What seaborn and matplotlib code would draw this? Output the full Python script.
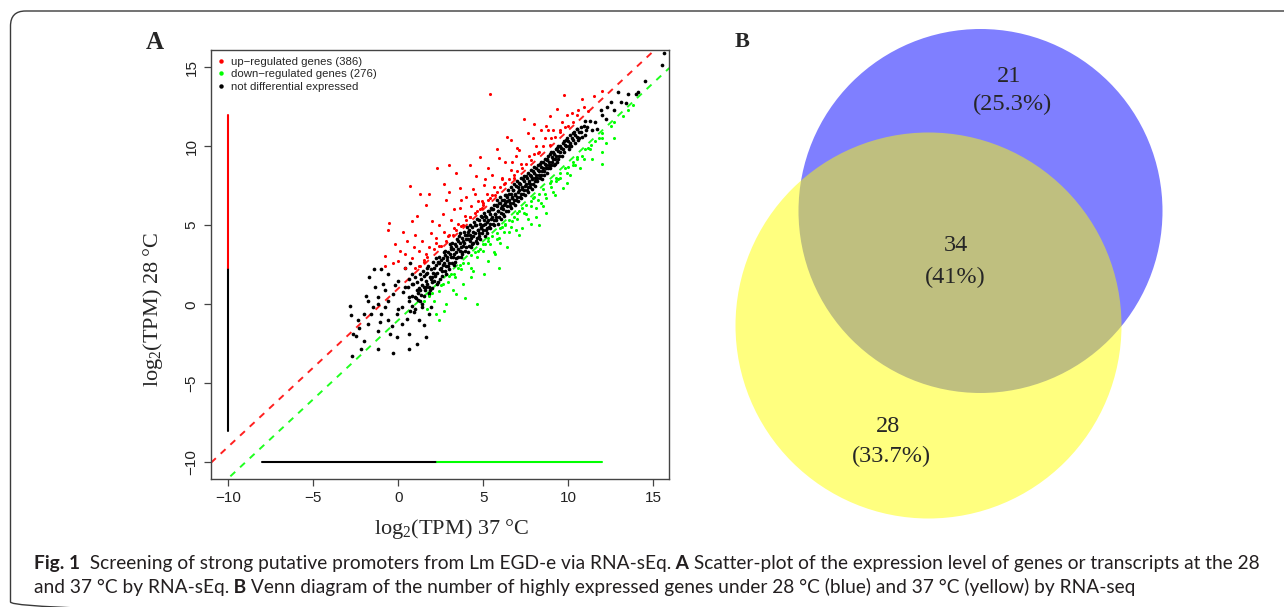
import numpy as np
import pandas as pd
import seaborn as sns
import matplotlib.pyplot as plt
from matplotlib.patches import Circle, FancyBboxPatch
from matplotlib.lines import Line2D

W, H = 1284, 607

#############################################
# Panel A data: log2(TPM) at 37 C (x) vs 28 C (y)
#############################################
up_pts = [
    (5.41, 13.28), (9.73, 13.22), (10.8, 13.0), (11.96, 13.5), (9.36, 12.34), (10.54, 12.28),
    (11.15, 12.2), (8.0, 11.4), (8.67, 11.3), (8.92, 11.9), (7.64, 10.8), (6.6, 10.4),
    (7.1, 9.76), (5.9, 9.24), (6.7, 9.0), (4.2, 8.8), (3.0, 8.8), (2.3, 8.6), (5.3, 8.6),
    (7.3, 8.6), (7.5, 8.9), (4.55, 8.1), (6.1, 8.0), (0.7, 7.45), (1.3, 7.0), (3.0, 7.1),
    (3.6, 7.35), (5.06, 7.56), (6.2, 7.6), (5.7, 6.9), (4.9, 6.5), (1.6, 6.3), (2.6, 5.7),
    (2.0, 5.25), (3.6, 6.1), (4.2, 5.5), (4.6, 5.9), (0.8, 5.25), (-0.55, 5.15), (-0.6, 4.7),
    (0.3, 4.6), (1.0, 4.4), (2.2, 4.2), (3.0, 4.4), (3.4, 4.7), (3.7, 4.95), (1.8, 3.6),
    (2.4, 3.7), (2.8, 4.0), (0.1, 3.4), (-0.8, 3.05), (0.0, 2.74), (0.8, 2.95), (1.6, 3.16),
    (1.7, 3.0), (0.4, 2.3), (1.2, 2.4), (1.3, 2.45), (-0.8, 2.4), (1.5, 2.7), (4.9, 6.1),
    (5.0, 6.3), (5.4, 6.7), (6.8, 8.0), (8.2, 9.55), (8.9, 10.1), (9.5, 10.9), (9.8, 11.2),
    (10.3, 11.5), (2.5, 3.7), (3.2, 4.4), (3.8, 5.0), (4.5, 5.8), (5.0, 6.4), (5.5, 6.9),
    (6.0, 7.4), (6.5, 7.9), (7.0, 8.4), (8.0, 9.5), (8.5, 10.0), (9.0, 10.5), (9.5, 11.0),
    (1.5, 2.8), (1.0, 2.3), (3.5, 5.1), (4.2, 5.5), (5.8, 7.1), (6.3, 7.7), (4.0, 5.3),
    (4.8, 6.0), (5.3, 6.6), (6.8, 8.2), (7.8, 9.1), (8.3, 9.6), (9.2, 10.6), (10.0, 11.3),
    (10.5, 12.0), (2.9, 4.3), (3.3, 4.8), (2.1, 3.5), (1.2, 3.4), (0.4, 3.2), (-0.3, 2.6),
    (2.2, 3.9), (2.7, 4.6), (3.1, 5.3), (3.9, 5.6), (4.3, 6.2), (4.7, 6.5), (5.2, 7.0),
    (5.6, 7.4), (6.1, 7.9), (6.6, 8.5), (7.2, 8.9), (7.7, 9.4), (8.1, 10.0), (8.6, 10.5),
    (9.1, 11.0), (9.6, 11.5), (10.2, 12.1), (3.3, 6.0), (4.0, 6.8), (4.4, 7.3), (5.5, 8.2),
    (6.3, 9.0), (7.0, 9.9), (7.9, 10.5), (8.4, 11.0), (2.4, 5.0), (1.9, 4.5), (1.4, 4.0),
    (0.9, 3.6), (3.7, 6.6), (5.1, 7.9), (6.9, 9.4), (8.8, 11.0), (9.9, 12.0), (10.9, 12.5),
    (11.5, 13.2), (-0.2, 3.8), (0.5, 4.0), (1.1, 5.6), (2.8, 6.6), (4.8, 9.3), (5.8, 9.8),
    (6.4, 10.6), (7.4, 11.7), (3.4, 8.3), (1.8, 7.0), (2.7, 7.6), (4.5, 7.0),
]

down_pts = [
    (11.96, 10.5), (11.35, 10.1), (12.7, 10.5), (11.96, 9.66), (11.96, 8.9), (11.15, 9.9),
    (10.95, 9.2), (10.3, 8.8), (10.1, 8.2), (9.3, 7.8), (9.7, 7.35), (8.7, 6.7), (8.5, 6.2),
    (8.1, 5.5), (7.5, 5.7), (7.3, 4.85), (7.1, 5.9), (6.3, 5.1), (6.1, 4.9), (6.5, 4.6),
    (5.9, 4.2), (5.3, 4.2), (5.7, 3.2), (5.3, 2.74), (4.7, 3.4), (4.25, 2.3), (3.65, 2.5),
    (4.3, 3.1), (3.35, 1.7), (3.0, 1.8), (2.6, 1.27), (2.4, 0.85), (3.8, 1.27), (2.8, 0.0),
    (4.65, 0.0), (2.4, -1.0), (2.2, -0.6), (3.4, 0.65), (5.1, 3.8), (6.7, 5.25), (7.9, 6.7),
    (9.1, 7.1), (8.9, 7.7), (10.5, 9.2), (11.55, 10.3), (12.7, 11.5), (13.2, 11.9), (13.8, 12.6),
    (4.25, 1.7), (5.9, 2.3), (5.05, 1.9), (7.1, 4.4), (8.1, 6.1), (9.5, 8.0), (8.3, 5.0),
    (8.7, 5.8), (1.5, 0.2), (2.0, 0.7), (3.1, 1.9), (3.5, 2.3), (4.5, 3.3), (5.0, 3.8),
    (5.5, 4.3), (6.0, 4.8), (6.5, 5.3), (7.0, 5.8), (7.5, 6.3), (8.0, 6.8), (8.5, 7.3),
    (9.0, 7.8), (9.5, 8.3), (10.0, 8.7), (10.5, 9.3), (11.0, 9.8), (12.0, 10.8), (12.5, 11.3),
    (3.8, 2.6), (4.8, 3.5), (5.3, 4.0), (5.8, 4.5), (6.3, 5.0), (6.8, 5.5), (7.3, 6.1),
    (7.8, 6.5), (8.3, 7.0), (9.3, 8.0), (9.8, 8.6), (10.3, 9.0), (13.5, 12.3), (1.8, 0.5),
    (2.5, 1.2), (2.9, 1.4), (3.3, 1.9), (3.7, 2.2), (4.1, 2.6), (4.6, 3.0), (5.0, 3.4),
    (5.4, 3.8), (5.8, 4.1), (6.2, 4.6), (6.6, 4.9), (7.0, 5.4), (7.4, 5.8), (7.8, 6.2),
    (8.2, 6.6), (8.6, 7.0), (9.0, 7.4), (9.4, 7.9), (9.9, 8.3), (10.4, 8.8), (10.8, 9.4),
    (11.3, 9.8), (11.8, 10.5), (4.4, 2.1), (5.6, 3.3), (6.0, 3.9), (6.9, 4.7), (7.6, 5.4),
    (8.4, 6.4), (9.2, 6.9), (9.9, 7.7), (10.7, 8.6), (11.4, 9.2), (3.2, 0.9), (2.7, -0.4),
    (3.9, 0.4), (6.4, 3.6), (7.8, 5.1), (12.2, 10.2), (2.1, 0.2), (1.7, -0.3),
]

flat_pts = [
    # low expressed cloud
    (-2.84, -0.09), (-2.8, -0.7), (-2.64, -1.87), (-2.7, -3.3), (-2.33, -1.5), (-1.73, 1.7),
    (-1.42, 2.2), (-1.0, 2.2), (-0.9, 1.27), (-1.2, 0.44), (-1.8, 0.23), (-1.6, -0.6),
    (-1.8, -1.24), (-1.2, -1.66), (-1.2, -2.8), (-0.3, -3.1), (0.6, -2.8), (1.1, -2.5),
    (1.6, -2.1), (0.6, -1.9), (-0.1, -2.1), (-0.6, -1.0), (-0.1, -0.6), (0.2, -0.2),
    (-0.8, -0.2), (-0.3, 0.65), (0.4, 1.07), (1.0, 0.44), (1.4, -0.2), (1.8, -0.6),
    (1.2, -1.0), (0.8, 1.9), (0.4, 2.3), (0.8, 1.27), (1.6, 1.07), (2.0, 1.7), (1.8, 0.65),
    (-2.0, -2.3), (-2.2, -2.8), (-0.5, -1.9), (0.2, -1.24), (-1.0, -0.6), (-1.4, 1.07),
    (-0.6, 1.9), (0.0, 1.5), (0.6, 0.44), (-0.6, 0.23), (-1.2, 0.0), (-2.0, -0.6), (-2.4, -1.0),
    (-1.5, -0.2), (-0.4, -1.4), (0.9, -0.5), (0.3, 0.8), (-0.8, 0.9), (1.3, 0.2), (0.5, -0.9),
    (-1.9, 0.5), (-2.5, -2.0), (0.0, -0.3), (1.5, -1.3), (0.7, 2.6), (-0.2, 1.2), (1.9, -0.2),
    (-1.1, -1.1),
    # main band
    (0.62, 0.2), (0.55, 1.1), (0.68, -0.4), (0.6, 1.6), (0.83, 0.5), (0.78, -0.1), (0.86, 1.3),
    (1.03, 0.4), (0.96, 1.7), (1.08, 0.9), (1.0, -0.3), (1.22, 1.0), (1.17, 0.3), (1.25, 1.9),
    (1.41, 1.2), (1.36, 0.6), (1.44, 2.1), (1.38, 0.0), (1.62, 1.5), (1.57, 0.9), (1.66, 2.3),
    (1.6, 1.9), (1.83, 1.1), (1.77, 2.4), (1.85, 1.7), (1.8, 0.7), (2.03, 2.0), (1.97, 1.4),
    (2.06, 2.7), (2.0, 1.0), (2.23, 2.5), (2.17, 1.8), (2.26, 1.3), (2.2, 2.9), (2.43, 2.2),
    (2.37, 3.0), (2.45, 1.6), (2.4, 2.6), (2.62, 2.9), (2.57, 2.1), (2.66, 3.3), (2.6, 2.5),
    (2.83, 2.4), (2.77, 3.4), (2.86, 3.0), (2.8, 1.9), (3.02, 3.2), (2.97, 2.6), (3.05, 3.8),
    (3.0, 2.2), (3.08, 3.5), (3.22, 3.0), (3.17, 3.9), (3.25, 2.5), (3.2, 3.5), (3.42, 3.7),
    (3.37, 2.9), (3.45, 4.1), (3.4, 3.3), (3.62, 3.4), (3.57, 4.3), (3.66, 3.0), (3.6, 3.9),
    (3.64, 4.5), (3.83, 4.0), (3.77, 3.3), (3.86, 4.6), (3.8, 3.7), (4.02, 4.4), (3.97, 3.6),
    (4.06, 4.9), (4.0, 4.1), (4.08, 3.3), (4.22, 4.0), (4.17, 4.7), (4.26, 3.6), (4.2, 5.0),
    (4.24, 4.4), (4.42, 4.6), (4.37, 3.9), (4.45, 5.2), (4.4, 4.3), (4.62, 4.2), (4.57, 5.0),
    (4.66, 4.7), (4.6, 5.4), (4.64, 3.9), (4.83, 5.1), (4.77, 4.5), (4.86, 5.6), (4.8, 4.1),
    (4.84, 4.8), (5.02, 5.3), (4.97, 4.7), (5.06, 5.8), (5.0, 5.0), (5.08, 4.3), (5.22, 4.8),
    (5.17, 5.5), (5.26, 5.9), (5.2, 5.2), (5.24, 4.5), (5.42, 5.7), (5.37, 5.1), (5.45, 6.1),
    (5.4, 4.8), (5.44, 5.4), (5.62, 5.3), (5.57, 6.0), (5.66, 5.7), (5.6, 6.3), (5.64, 5.0),
    (5.83, 6.2), (5.77, 5.5), (5.86, 5.9), (5.8, 6.6), (5.84, 5.1), (6.02, 5.8), (5.97, 6.4),
    (6.06, 6.1), (6.0, 6.8), (6.04, 5.4), (6.22, 6.6), (6.17, 6.0), (6.26, 6.9), (6.2, 5.6),
    (6.24, 6.3), (6.42, 6.2), (6.37, 6.8), (6.45, 7.2), (6.4, 6.5), (6.44, 5.9), (6.62, 7.0),
    (6.57, 6.4), (6.66, 6.7), (6.6, 7.4), (6.64, 6.1), (6.83, 6.6), (6.77, 7.2), (6.86, 6.9),
    (6.8, 7.6), (6.84, 6.3), (7.02, 7.4), (6.97, 6.8), (7.06, 7.1), (7.0, 7.8), (7.04, 6.5),
    (7.22, 7.0), (7.17, 7.6), (7.26, 7.3), (7.2, 8.0), (7.24, 6.7), (7.42, 7.8), (7.37, 7.2),
    (7.45, 7.5), (7.4, 8.1), (7.44, 6.9), (7.62, 7.4), (7.57, 8.0), (7.66, 7.7), (7.6, 8.3),
    (7.64, 7.1), (7.83, 8.1), (7.77, 7.6), (7.86, 7.9), (7.8, 8.5), (7.84, 7.3), (8.02, 7.8),
    (7.97, 8.3), (8.06, 8.0), (8.0, 8.7), (8.04, 7.5), (8.22, 8.5), (8.17, 8.0), (8.26, 8.2),
    (8.2, 8.8), (8.42, 8.2), (8.37, 8.7), (8.45, 8.4), (8.4, 9.0), (8.44, 7.9), (8.62, 8.9),
    (8.57, 8.4), (8.66, 8.6), (8.6, 9.2), (8.83, 8.6), (8.77, 9.1), (8.86, 8.8), (8.8, 9.4),
    (9.02, 9.3), (8.97, 8.8), (9.06, 9.0), (9.0, 9.6), (9.22, 8.9), (9.17, 9.5), (9.26, 9.8),
    (9.2, 9.2), (9.42, 9.7), (9.37, 9.2), (9.45, 9.4), (9.4, 10.0), (9.62, 9.4), (9.57, 9.9),
    (9.66, 10.2), (9.83, 10.1), (9.77, 9.6), (9.86, 10.4), (10.02, 9.8), (9.97, 10.3),
    (10.06, 10.0), (10.22, 10.5), (10.17, 10.0), (10.26, 10.8), (10.42, 10.2), (10.37, 10.7),
    (10.62, 10.9), (10.57, 10.4), (10.83, 10.6), (10.77, 11.2), (11.02, 11.0), (10.97, 10.7),
    # main band, in between
    (1.12, 1.4), (1.15, 0.7), (1.31, 1.6), (1.29, 0.9), (1.52, 1.8), (1.49, 1.1), (1.53, 0.5),
    (1.71, 2.0), (1.68, 1.3), (1.93, 2.2), (1.9, 1.6), (1.88, 0.9), (2.12, 2.3), (2.1, 1.5),
    (2.14, 1.9), (2.32, 2.7), (2.29, 2.0), (2.33, 1.4), (2.52, 2.8), (2.49, 2.3), (2.54, 1.8),
    (2.72, 3.1), (2.69, 2.6), (2.73, 2.1), (2.91, 3.3), (2.89, 2.8), (2.94, 2.4), (3.12, 3.6),
    (3.1, 3.0), (3.14, 2.6), (3.32, 3.8), (3.29, 3.2), (3.34, 2.7), (3.51, 4.0), (3.49, 3.5),
    (3.53, 3.0), (3.72, 4.2), (3.69, 3.6), (3.74, 3.2), (3.92, 4.4), (3.89, 3.9), (3.94, 3.4),
    (4.12, 4.6), (4.09, 4.1), (4.14, 3.7), (4.32, 4.9), (4.29, 4.2), (4.34, 3.8), (4.52, 5.0),
    (4.49, 4.5), (4.54, 4.0), (4.72, 5.3), (4.69, 4.7), (4.74, 4.3), (4.92, 5.5), (4.89, 4.9),
    (4.94, 4.5), (5.12, 5.6), (5.09, 5.1), (5.14, 4.7), (5.32, 5.9), (5.29, 5.3), (5.34, 4.9),
    (5.52, 6.0), (5.49, 5.5), (5.54, 5.1), (5.72, 6.3), (5.69, 5.7), (5.74, 5.3), (5.92, 6.4),
    (5.89, 5.9), (5.94, 5.5), (6.12, 6.6), (6.09, 6.2), (6.14, 5.7), (6.32, 6.9), (6.29, 6.4),
    (6.34, 5.9), (6.52, 7.0), (6.49, 6.6), (6.54, 6.2), (6.72, 7.2), (6.69, 6.8), (6.74, 6.4),
    (6.92, 7.5), (6.89, 7.0), (6.94, 6.6), (7.12, 7.7), (7.09, 7.2), (7.14, 6.8), (7.32, 7.9),
    (7.29, 7.4), (7.34, 7.0), (7.52, 8.1), (7.49, 7.6), (7.54, 7.2), (7.72, 8.2), (7.69, 7.8),
    (7.74, 7.4), (7.92, 8.4), (7.89, 8.0), (7.94, 7.6), (8.12, 8.6), (8.09, 8.2), (8.14, 7.8),
    (8.32, 8.9), (8.29, 8.4), (8.34, 8.0), (8.52, 9.0), (8.49, 8.6), (8.54, 8.2), (8.72, 9.2),
    (8.69, 8.8), (8.74, 8.3), (8.92, 9.5), (8.89, 9.0), (8.94, 8.6), (9.12, 9.6), (9.09, 9.2),
    (9.14, 8.8), (9.32, 9.9), (9.29, 9.4), (9.34, 9.0), (9.52, 10.0), (9.49, 9.6), (9.72, 10.3),
    (9.69, 9.8), (9.92, 10.5), (9.89, 10.0), (10.12, 10.7), (10.09, 10.2), (10.32, 10.9),
    (10.29, 10.4), (10.52, 11.1), (10.49, 10.6), (10.72, 10.9), (10.92, 11.3), (11.12, 11.2),
    (11.4, 11.0),
    # high end
    (11.3, 11.6), (11.55, 11.5), (11.7, 11.1), (11.9, 12.3), (12.0, 12.0), (12.2, 11.7),
    (12.5, 12.8), (12.7, 12.3), (12.9, 13.4), (13.1, 12.8), (13.4, 12.7), (13.5, 13.3),
    (14.0, 13.3), (14.1, 13.4), (14.5, 14.1), (15.5, 15.15), (15.6, 15.9), (10.5, 11.1),
    (10.6, 10.5), (10.1, 10.1), (11.0, 11.6), (12.3, 12.5),
]

n_up, n_down = 386, 276
fold_offsets = [1, -1]            # y = x + 1 (red) and y = x - 1 (green)
vline_black = [-8.0, 2.3]         # along x = -10
vline_red = [2.3, 12.0]
hline_black = [-8.0, 2.25]        # along y = -10
hline_green = [2.25, 12.0]

#############################################
# Panel B data: Venn counts
#############################################
venn_labels = ["28 only", "both", "37 only"]
venn_counts = [21, 34, 28]

#############################################
# style
#############################################
sns.set_theme(style="ticks")
plt.rcParams["font.family"] = ["Liberation Sans", "DejaVu Sans"]
plt.rcParams["mathtext.fontset"] = "stix"
serif = ["Liberation Serif", "DejaVu Serif", "DejaVu Sans"]

fig = plt.figure(figsize=(W / 100, H / 100), dpi=100)
fig.patch.set_facecolor("white")


def px_box(l, t, r, b):
    return [l / W, 1 - b / H, (r - l) / W, (b - t) / H]


def to_df(pts, grp):
    d = pd.DataFrame(pts, columns=["x37", "y28"])
    d["grp"] = grp
    return d


#############################################
# Panel A
#############################################
ax = fig.add_axes(px_box(211, 50, 669.3, 479))
ax.set_facecolor("white")
xlim = (-11.02, 15.94)
ylim = (-11.05, 16.08)

pts = pd.concat([to_df(flat_pts, "flat"), to_df(up_pts, "up"), to_df(down_pts, "down")])
cols = {"flat": "black", "up": "#ff0000", "down": "#00ff00"}
sizes = {"flat": 7, "up": 5, "down": 5}
for g in ["flat", "up", "down"]:
    sns.scatterplot(data=pts[pts.grp == g], x="x37", y="y28", color=cols[g],
                    s=sizes[g], linewidth=0, legend=False, ax=ax, zorder=3)

xs = np.array(xlim)
for off, c in zip(fold_offsets, ["#ff2020", "#20ff20"]):
    ax.plot(xs, xs + off, color=c, lw=1.4, dashes=(3.4, 3.4), zorder=2)

ax.plot([-10, -10], vline_black, color="black", lw=1.5)
ax.plot([-10, -10], vline_red, color="#ff0000", lw=1.5)
ax.plot(hline_black, [-10, -10], color="black", lw=1.5)
ax.plot(hline_green, [-10, -10], color="#00ff00", lw=1.5)

ax.set_xlim(xlim)
ax.set_ylim(ylim)
ax.set_xticks([-10, -5, 0, 5, 10, 15])
ax.set_yticks([-10, -5, 0, 5, 10, 15])
ax.set_xticklabels(["\u221210", "\u22125", "0", "5", "10", "15"])
ax.set_yticklabels(["\u221210", "\u22125", "0", "5", "10", "15"], rotation=90, va="center")
ax.tick_params(length=5, width=0.9, color="#444444", labelsize=11, labelcolor="#222222", pad=4)
for sp in ax.spines.values():
    sp.set_color("#444444")
    sp.set_linewidth(1.0)
ax.set_xlabel("")
ax.set_ylabel("")

handles = [Line2D([], [], ls="", marker="o", markersize=3.2, color=c, markeredgewidth=0)
           for c in ["#ff0000", "#00ff00", "black"]]
ax.legend(handles, [f"up\u2212regulated genes ({n_up})", f"down\u2212regulated genes ({n_down})",
                    "not differential expressed"],
          loc="upper left", bbox_to_anchor=(0.014, 0.984), frameon=False, fontsize=8.2,
          handlelength=0.6, handletextpad=0.55, labelspacing=0.22, borderpad=0, borderaxespad=0)

fig.text(451.5 / W, 1 - 529 / H, r"$\mathregular{log_2}$(TPM) 37 °C", family=serif,
         fontsize=16, ha="center", va="center")
fig.text(153 / W, 1 - 309 / H, r"$\mathregular{log_2}$(TPM) 28 °C", family=serif,
         fontsize=16, ha="center", va="center", rotation=90)
fig.text(154.8 / W, 1 - 49.3 / H, "A", family=serif, fontweight="bold", fontsize=18,
         ha="center", va="baseline")

#############################################
# Panel B + frame + caption (pixel coordinates)
#############################################
ov = fig.add_axes([0, 0, 1, 1])
ov.set_xlim(0, W)
ov.set_ylim(H, 0)
ov.axis("off")
ov.patch.set_alpha(0)

ov.add_patch(Circle((980.5, 211), 182, facecolor=(0, 0, 1), alpha=0.5, lw=0))
ov.add_patch(Circle((928.5, 325.5), 193, facecolor=(1, 1, 0), alpha=0.5, lw=0))

total = sum(venn_counts)
pct = [f"({100 * c / total:.1f}".rstrip("0").rstrip(".") + "%)" for c in venn_counts]
spots = [((1009.2, 81.7), (1013, 110)), ((956.2, 250.7), (955.5, 282.7)),
         ((888.3, 431.7), (891.7, 462.3))]
for c, p, (a, b) in zip(venn_counts, pct, spots):
    ov.text(a[0], a[1], str(c), family=serif, fontsize=17.5, ha="center", va="baseline")
    ov.text(b[0], b[1], p, family=serif, fontsize=17.5, ha="center", va="baseline")

ov.text(742.3, 46.7, "B", family=serif, fontweight="bold", fontsize=16, ha="center", va="baseline")

ov.add_patch(FancyBboxPatch((10.5, 11), 1320, 606, boxstyle="round,pad=0,rounding_size=15",
                            facecolor="none", edgecolor="#3a3a3a", lw=1.0))

# caption, written as runs of plain and bold text
cap_font = ["Lato", "DejaVu Sans"]
line1 = [("Fig. 1", "bold"), ("  Screening of strong putative promoters from Lm EGD-e via RNA-sEq.", "normal"),
         (" A", "bold"), (" Scatter-plot of the expression level of genes or transcripts at the 28", "normal")]
line2 = [("and 37 °C by RNA-sEq.", "normal"), (" B", "bold"),
         (" Venn diagram of the number of highly expressed genes under 28 °C (blue) and 37 °C (yellow) by RNA-seq",
          "normal")]
renderer = fig.canvas.get_renderer()


def run_width(runs, size):
    w = 0
    for txt, wt in runs:
        t = ov.text(0, 0, txt.replace(" ", "\u00a0"), family=cap_font, fontweight=wt, fontsize=size)
        w += t.get_window_extent(renderer).width
        t.remove()
    return w


def draw_runs(x, y, runs, size):
    for txt, wt in runs:
        t = ov.text(x, y, txt.replace(" ", "\u00a0"), family=cap_font, fontweight=wt, fontsize=size,
                    ha="left", va="baseline", color="#231f20")
        x += t.get_window_extent(renderer).width


cap_size = 12 * (1262 - 34) / run_width(line1, 12)
draw_runs(34, 569.3, line1, cap_size)
draw_runs(34, 593.3, line2, cap_size)

fig.savefig("out.png", dpi=100)
